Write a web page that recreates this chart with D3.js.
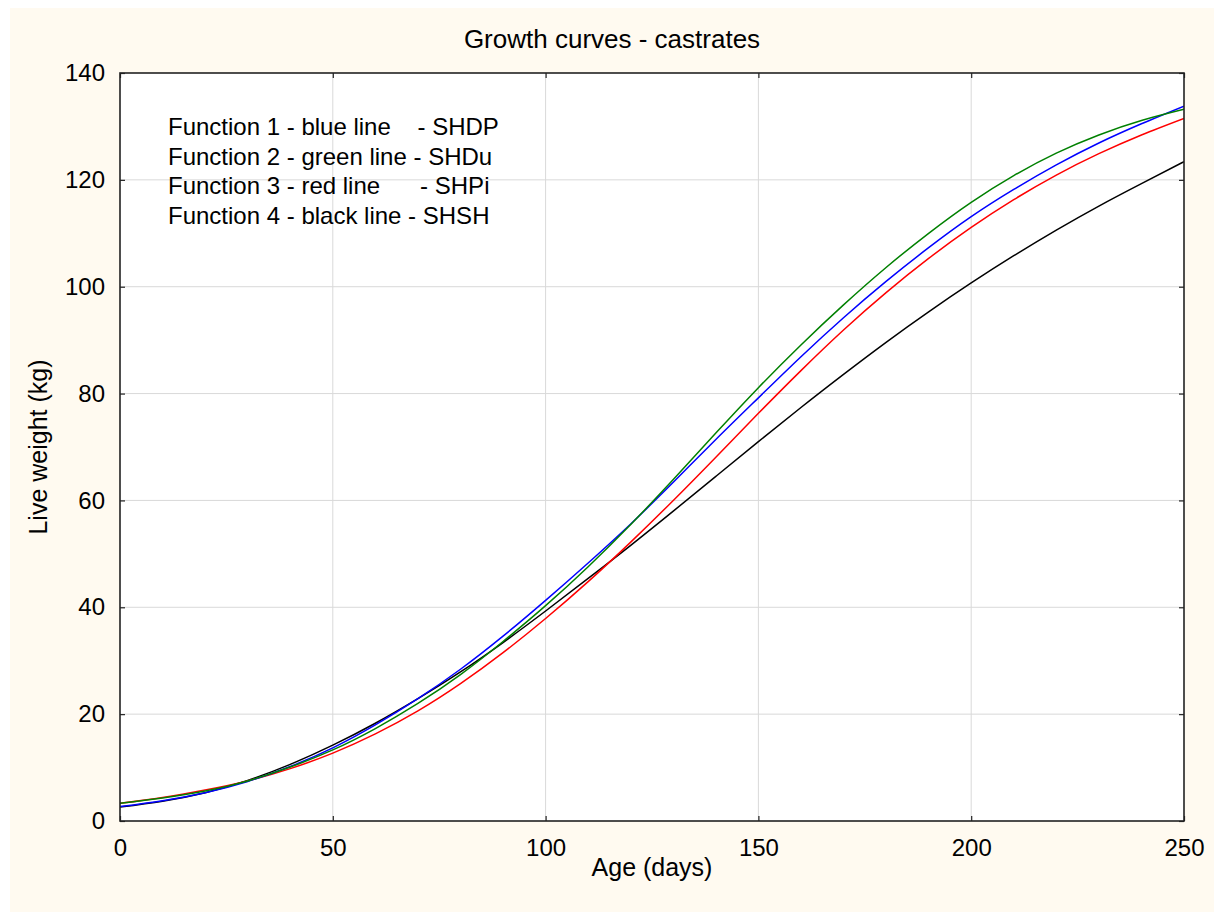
<!DOCTYPE html>
<html>
<head>
<meta charset="utf-8">
<script src="https://cdn.jsdelivr.net/npm/d3@7"></script>
<style>
  body { margin: 0; background: #fff; }
  svg { display: block; font-family: "Liberation Sans", Arial, sans-serif; }
</style>
</head>
<body>
<svg id="chart" width="1214" height="912"></svg>
<script>
// Age in days, one point every 10 days
const ages = [0, 10, 20, 30, 40, 50, 60, 70, 80, 90, 100, 110, 120, 130, 140, 150,
  160, 170, 180, 190, 200, 210, 220, 230, 240, 250];

// Live weight (kg)
const blueSHDP = [2.7, 3.8, 5.3, 7.4, 10.2, 13.7, 18.0, 22.9, 28.4, 34.6, 41.3, 48.3, 55.6,
  63.4, 71.4, 79.2, 86.9, 94.2, 101.0, 107.3, 113.1, 118.2, 122.8, 126.9, 130.5, 133.8];
const greenSHDu = [3.3, 4.3, 5.6, 7.5, 10.1, 13.3, 17.3, 22.0, 27.4, 33.6, 40.3, 47.6, 55.5,
  63.9, 72.6, 81.1, 89.1, 96.6, 103.6, 110.0, 115.8, 120.8, 125.0, 128.4, 131.1, 133.2];
const redSHPi = [3.3, 4.4, 5.8, 7.5, 9.8, 12.7, 16.3, 20.6, 25.7, 31.5, 37.9, 44.8, 52.2,
  60.0, 68.1, 76.3, 84.3, 91.9, 98.9, 105.3, 111.1, 116.3, 120.9, 124.9, 128.4, 131.5];
const blackSHSH = [2.6, 3.7, 5.3, 7.6, 10.6, 14.2, 18.3, 22.9, 27.9, 33.4, 39.3, 45.4, 51.6,
  58.0, 64.5, 71.0, 77.4, 83.6, 89.6, 95.3, 100.7, 105.8, 110.6, 115.1, 119.3, 123.4];

const xTicks = [0, 50, 100, 150, 200, 250];
const yTicks = [0, 20, 40, 60, 80, 100, 120, 140];

const legendLines = [
  "Function 1 - blue line    - SHDP",
  "Function 2 - green line - SHDu",
  "Function 3 - red line      - SHPi",
  "Function 4 - black line - SHSH"
];

const series = [
  { values: blackSHSH, color: "#000000" },
  { values: redSHPi, color: "#ff0000" },
  { values: blueSHDP, color: "#0000ff" },
  { values: greenSHDu, color: "#008000" }
];

const svg = d3.select("#chart");
const plotLeft = 120, plotRight = 1184, plotTop = 73, plotBottom = 821;

// cream page background
svg.append("rect")
  .attr("x", 10).attr("y", 8)
  .attr("width", 1204).attr("height", 904)
  .attr("fill", "#fffaf0");

svg.append("rect")
  .attr("x", plotLeft).attr("y", plotTop)
  .attr("width", plotRight - plotLeft).attr("height", plotBottom - plotTop)
  .attr("fill", "#fff");

const x = d3.scaleLinear().domain([0, 250]).range([plotLeft, plotRight]);
const y = d3.scaleLinear().domain([0, 140]).range([plotBottom, plotTop]);

// gridlines
svg.append("g")
  .selectAll("line")
  .data(xTicks.slice(1, -1))
  .join("line")
  .attr("x1", d => x(d)).attr("x2", d => x(d))
  .attr("y1", plotTop).attr("y2", plotBottom)
  .attr("stroke", "#d9d9d9").attr("stroke-width", 1);

svg.append("g")
  .selectAll("line")
  .data(yTicks.slice(1, -1))
  .join("line")
  .attr("x1", plotLeft).attr("x2", plotRight)
  .attr("y1", d => y(d)).attr("y2", d => y(d))
  .attr("stroke", "#d9d9d9").attr("stroke-width", 1);

// axes, ticks pointing inward on all four sides
function styleAxis(g, size) {
  g.select(".domain").remove();
  g.selectAll(".tick line").attr("stroke", "#222").attr("stroke-width", 1.2);
  g.selectAll(".tick text").attr("fill", "#000").style("font-size", size + "px");
}

svg.append("g")
  .attr("transform", `translate(0,${plotBottom})`)
  .call(d3.axisBottom(x).tickValues(xTicks).tickSize(-5).tickPadding(18))
  .call(g => styleAxis(g, 24));

svg.append("g")
  .attr("transform", `translate(${plotLeft},0)`)
  .call(d3.axisLeft(y).tickValues(yTicks).tickSize(-5).tickPadding(15))
  .call(g => styleAxis(g, 24));

svg.append("g")
  .attr("transform", `translate(0,${plotTop})`)
  .call(d3.axisTop(x).tickValues(xTicks).tickSize(-5).tickFormat(""))
  .call(g => styleAxis(g, 24));

svg.append("g")
  .attr("transform", `translate(${plotRight},0)`)
  .call(d3.axisRight(y).tickValues(yTicks).tickSize(-5).tickFormat(""))
  .call(g => styleAxis(g, 24));

// curves
svg.append("clipPath").attr("id", "plot-clip")
  .append("rect")
  .attr("x", plotLeft).attr("y", plotTop)
  .attr("width", plotRight - plotLeft).attr("height", plotBottom - plotTop);

const line = d3.line()
  .x((d, i) => x(ages[i]))
  .y(d => y(d))
  .curve(d3.curveNatural);

svg.append("g")
  .attr("clip-path", "url(#plot-clip)")
  .selectAll("path")
  .data(series)
  .join("path")
  .attr("d", d => line(d.values))
  .attr("fill", "none")
  .attr("stroke", d => d.color)
  .attr("stroke-width", 1.5);

// frame
svg.append("rect")
  .attr("x", plotLeft).attr("y", plotTop)
  .attr("width", plotRight - plotLeft).attr("height", plotBottom - plotTop)
  .attr("fill", "none")
  .attr("stroke", "#222").attr("stroke-width", 1.6);

// legend text inside the plot
svg.append("g")
  .selectAll("text")
  .data(legendLines)
  .join("text")
  .attr("x", 168)
  .attr("y", (d, i) => 135 + i * 29.7)
  .style("font-size", "24px")
  .style("white-space", "pre")
  .attr("fill", "#000")
  .text(d => d);

// titles
svg.append("text")
  .attr("x", 612).attr("y", 48)
  .attr("text-anchor", "middle")
  .style("font-size", "26px")
  .text("Growth curves - castrates");

svg.append("text")
  .attr("x", (plotLeft + plotRight) / 2).attr("y", 876)
  .attr("text-anchor", "middle")
  .style("font-size", "25px")
  .text("Age (days)");

svg.append("text")
  .attr("transform", `translate(47,${(plotTop + plotBottom) / 2}) rotate(-90)`)
  .attr("text-anchor", "middle")
  .style("font-size", "25px")
  .text("Live weight (kg)");
</script>
</body>
</html>
